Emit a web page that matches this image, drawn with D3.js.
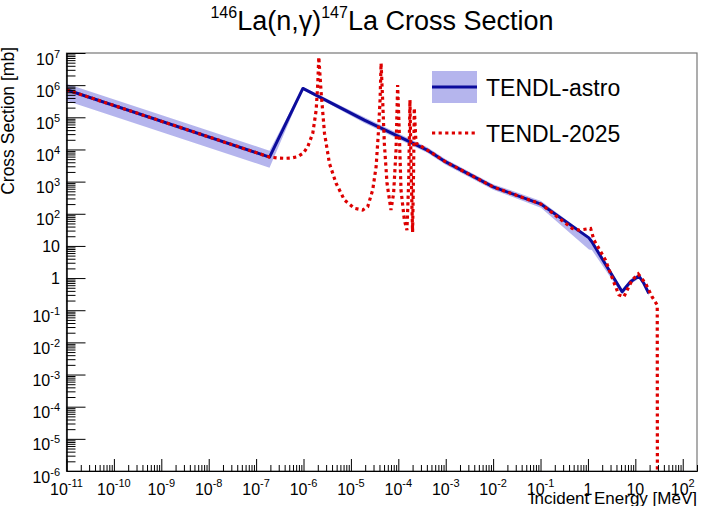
<!DOCTYPE html>
<html>
<head>
<meta charset="utf-8">
<script src="https://cdn.jsdelivr.net/npm/d3@7"></script>
<style>
  body { margin: 0; background: #fff; }
  svg { font-family: "Liberation Sans", Arial, Helvetica, sans-serif; }
</style>
</head>
<body>
<svg id="chart" width="705" height="506"></svg>
<script>
// TENDL-astro: energy [MeV], cross section [mb], band low / high
var astroE  = [1e-11, 1.92e-7, 9.7e-7, 1.92e-5, 4.08e-4, 1e-3, 1e-2, 0.102, 1.05, 1.21, 5.27, 7.9, 11.9, 15.1, 19.2];
var astroXS = [7.2e5, 5.8e3, 7.9e5, 8.2e4, 9.6e3, 4.1e3, 684, 200, 17.8, 13.5, 0.377, 0.77, 1.16, 0.69, 0.336];
var astroLo = [3.3e5, 2.7e3, 7.2e5, 6.7e4, 7.9e3, 3.35e3, 560, 154, 7.7, 7.5, 0.31, 0.64, 0.97, 0.58, 0.28];
var astroHi = [1.1e6, 9.2e3, 8.7e5, 1.0e5, 1.17e4, 5.0e3, 835, 250, 19.6, 15.5, 0.45, 0.92, 1.39, 0.83, 0.40];

// TENDL-2025: energy [MeV], cross section [mb]
var tendlE = [1e-11, 1.92e-7, 3.0e-7, 4.0e-7, 5.5e-7, 7.6e-7, 1.0e-6, 1.23e-6, 1.57e-6, 1.85e-6, 2.0e-6, 2.10e-6, 2.36e-6,
  2.77e-6, 3.52e-6, 4.87e-6, 7.3e-6, 1.19e-5, 1.77e-5, 2.26e-5, 2.88e-5, 3.40e-5, 3.79e-5,
  4.12e-5, 4.33e-5, 4.67e-5, 5.07e-5, 5.78e-5, 7.0e-5, 7.96e-5, 8.95e-5, 9.67e-5, 1.05e-4,
  1.14e-4, 1.34e-4, 1.52e-4, 1.65e-4, 1.76e-4, 1.88e-4, 2.0e-4, 2.1e-4, 2.17e-4, 2.36e-4,
  4.08e-4, 1e-3, 1e-2, 0.102, 0.467, 0.65, 1.14, 1.34, 2.35, 3.83,
  4.5, 5.73, 6.7, 8.57, 11.5, 16.4, 22.6, 29, 29.3];
var tendlXS = [7.2e5, 5.8e3, 5.4e3, 5.3e3, 5.4e3, 6.0e3, 7.8e3, 1.22e4, 3.2e4, 1.69e5, 1.14e6, 7.5e6, 5.6e5,
  3.2e4, 3.7e3, 885, 268, 148, 131, 166, 548, 2.9e3, 3.2e4,
  3.45e5, 4.8e6, 3.45e5, 1.55e4, 885, 131, 433, 9.6e3, 1.0e6, 3.2e4,
  548, 64, 31, 885, 3.45e5, 1.1e3, 27, 2.3e3, 1.95e5, 1.59e4,
  9.6e3, 4.1e3, 684, 200, 35, 31, 35, 15.3, 3.6, 0.54,
  0.30, 0.26, 0.42, 0.87, 1.34, 0.69, 0.26, 0.145, 1e-9];

// axis ticks
var xTicks = [1e-11, 1e-10, 1e-9, 1e-8, 1e-7, 1e-6, 1e-5, 1e-4, 1e-3, 1e-2, 1e-1, 1, 10, 100];
var xTickLabels = [["10","-11"],["10","-10"],["10","-9"],["10","-8"],["10","-7"],["10","-6"],["10","-5"],
  ["10","-4"],["10","-3"],["10","-2"],["10","-1"],["1",""],["10",""],["10","2"]];
var yTicks = [1e7, 1e6, 1e5, 1e4, 1e3, 1e2, 10, 1, 1e-1, 1e-2, 1e-3, 1e-4, 1e-5, 1e-6];
var yTickLabels = [["10","7"],["10","6"],["10","5"],["10","4"],["10","3"],["10","2"],["10",""],["1",""],
  ["10","-1"],["10","-2"],["10","-3"],["10","-4"],["10","-5"],["10","-6"]];
var minorSteps = [2, 3, 4, 5, 6, 7, 8, 9];

var fLeft = 66.5, fRight = 697, fTop = 53, fBottom = 471;

var svg = d3.select("#chart");

var x = d3.scaleLog().domain([1e-11, 200]).range([fLeft, fRight]);
var y = d3.scaleLog().domain([1e-6, 1e7]).range([fBottom, fTop]);

var xMinor = [], yMinor = [];
xTicks.forEach(function (t) {
  minorSteps.forEach(function (k) { if (t * k <= 200) xMinor.push(t * k); });
});
yTicks.forEach(function (t) {
  minorSteps.forEach(function (k) { if (t * k < 1e7) yMinor.push(t * k); });
});

svg.append("defs").append("clipPath").attr("id", "frame")
  .append("rect").attr("x", fLeft).attr("y", fTop)
  .attr("width", fRight - fLeft).attr("height", fBottom - fTop);

// frame
svg.append("rect")
  .attr("x", fLeft).attr("y", fTop)
  .attr("width", fRight - fLeft).attr("height", fBottom - fTop)
  .attr("fill", "none").attr("stroke", "#777").attr("stroke-width", 1.2);

var plot = svg.append("g").attr("clip-path", "url(#frame)");

var idx = d3.range(astroE.length);

plot.append("path")
  .datum(idx)
  .attr("fill", "#5a5ad8").attr("fill-opacity", 0.45)
  .attr("d", d3.area()
    .x(function (i) { return x(astroE[i]); })
    .y0(function (i) { return y(astroLo[i]); })
    .y1(function (i) { return y(astroHi[i]); }));

plot.append("path")
  .datum(idx)
  .attr("fill", "none").attr("stroke", "#0c0c9c").attr("stroke-width", 3)
  .attr("stroke-linejoin", "round")
  .attr("d", d3.line()
    .x(function (i) { return x(astroE[i]); })
    .y(function (i) { return y(astroXS[i]); }));

plot.append("path")
  .datum(d3.range(tendlE.length))
  .attr("fill", "none").attr("stroke", "#dd0000").attr("stroke-width", 3.2)
  .attr("stroke-dasharray", "3.2,3.4")
  .attr("d", d3.line()
    .x(function (i) { return x(tendlE[i]); })
    .y(function (i) { return y(tendlXS[i]); }));

// axes
function styleAxis(g) {
  g.select(".domain").attr("stroke", "#000");
  g.selectAll(".tick line").attr("stroke", "#000");
}
svg.append("g").attr("transform", "translate(0," + fBottom + ")")
  .call(d3.axisBottom(x).tickValues(xMinor).tickSize(-6).tickSizeOuter(0).tickFormat(""))
  .call(styleAxis);
svg.append("g").attr("transform", "translate(0," + fBottom + ")")
  .call(d3.axisBottom(x).tickValues(xTicks).tickSize(-12).tickSizeOuter(0).tickFormat(""))
  .call(styleAxis);
svg.append("g").attr("transform", "translate(" + fLeft + ",0)")
  .call(d3.axisLeft(y).tickValues(yMinor).tickSize(-9).tickSizeOuter(0).tickFormat(""))
  .call(styleAxis);
svg.append("g").attr("transform", "translate(" + fLeft + ",0)")
  .call(d3.axisLeft(y).tickValues(yTicks).tickSize(-19).tickSizeOuter(0).tickFormat(""))
  .call(styleAxis);

// tick labels with superscripts
xTicks.forEach(function (t, i) {
  var lab = xTickLabels[i];
  var tx = svg.append("text").attr("x", x(t)).attr("y", 495)
    .attr("text-anchor", "middle").attr("font-size", 16).attr("fill", "#000");
  tx.append("tspan").text(lab[0]);
  if (lab[1]) tx.append("tspan").attr("font-size", 11).attr("dy", -8).text(lab[1]);
});
yTicks.forEach(function (t, i) {
  var lab = yTickLabels[i];
  var ty = svg.append("text").attr("x", 60).attr("text-anchor", "end")
    .attr("font-size", 16).attr("fill", "#000");
  if (lab[1]) {
    ty.attr("y", y(t) + 11.5);
    ty.append("tspan").text(lab[0]);
    ty.append("tspan").attr("font-size", 11).attr("dy", -7).text(lab[1]);
  } else {
    ty.attr("y", y(t) + 6).text(lab[0]);
  }
});

// axis titles
svg.append("text")
  .attr("transform", "translate(14,47) rotate(-90)")
  .attr("text-anchor", "end").attr("font-size", 17.5)
  .text("Cross Section [mb]");
svg.append("text")
  .attr("x", 697).attr("y", 504).attr("text-anchor", "end").attr("font-size", 17)
  .text("Incident Energy [MeV]");

// title
var title = svg.append("text").attr("x", 382).attr("y", 30)
  .attr("text-anchor", "middle").attr("font-size", 27);
title.append("tspan").attr("font-size", 16).attr("dy", -12).text("146");
title.append("tspan").attr("dy", 12).text("La(n,\u03b3)");
title.append("tspan").attr("font-size", 16).attr("dy", -12).text("147");
title.append("tspan").attr("dy", 12).text("La Cross Section");

// legend
var legend = svg.append("g");
legend.append("rect").attr("x", 432).attr("y", 71).attr("width", 45).attr("height", 32)
  .attr("fill", "#5a5ad8").attr("fill-opacity", 0.45);
legend.append("line").attr("x1", 432).attr("x2", 477).attr("y1", 87).attr("y2", 87)
  .attr("stroke", "#0c0c9c").attr("stroke-width", 3);
legend.append("text").attr("x", 486).attr("y", 95.5).attr("font-size", 23).text("TENDL-astro");
legend.append("line").attr("x1", 432).attr("x2", 477).attr("y1", 133).attr("y2", 133)
  .attr("stroke", "#dd0000").attr("stroke-width", 3.2).attr("stroke-dasharray", "3.2,3.4");
legend.append("text").attr("x", 486).attr("y", 141.5).attr("font-size", 23).text("TENDL-2025");
</script>
</body>
</html>
